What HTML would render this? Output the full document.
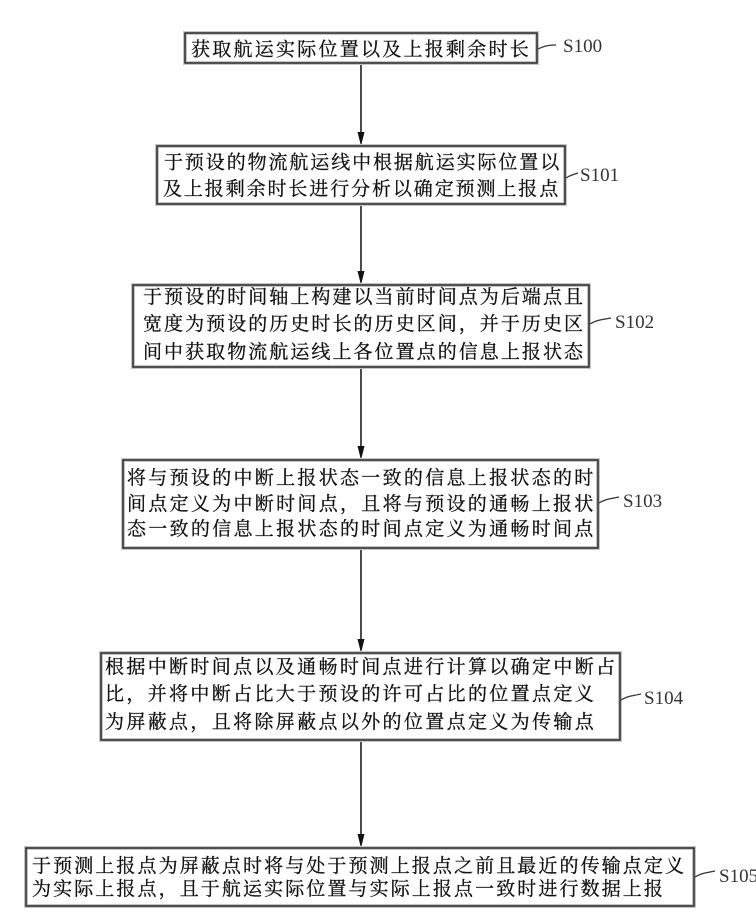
<!DOCTYPE html>
<html>
<head>
<meta charset="utf-8">
<style>
  html, body { margin: 0; padding: 0; background: #fff; }
  body { width: 756px; height: 924px; overflow: hidden; }
  svg { display: block; }
  .t { font-family: "Liberation Serif", "Noto Serif CJK SC", "Noto Serif CJK TC", serif; font-size: 19px; fill: #111; stroke: #111; stroke-width: 0.3px; }
  .lbl { font-family: "Liberation Serif", serif; font-size: 19px; fill: #333; }
  .halo { fill: none; stroke: #c4c4c4; stroke-width: 4; }
  .bx { fill: none; stroke: #111; stroke-width: 1.3; }
  .ln { stroke: #111; stroke-width: 1.5; }
  .ah { fill: #111; }
  .ld { fill: none; stroke: #333; stroke-width: 1.2; }
</style>
</head>
<body>
<svg width="756" height="924" viewBox="0 0 756 924" xmlns="http://www.w3.org/2000/svg">
  <!-- connectors -->
  <line class="ln" x1="361" y1="63" x2="361" y2="140"/>
  <polygon class="ah" points="357.5,132 364.5,132 361,146"/>
  <line class="ln" x1="361" y1="204" x2="361" y2="279"/>
  <polygon class="ah" points="357.5,271 364.5,271 361,285"/>
  <line class="ln" x1="361" y1="367" x2="361" y2="454"/>
  <polygon class="ah" points="357.5,446 364.5,446 361,460"/>
  <line class="ln" x1="361" y1="548" x2="361" y2="647"/>
  <polygon class="ah" points="357.5,639 364.5,639 361,653"/>
  <line class="ln" x1="361" y1="740" x2="361" y2="842"/>
  <polygon class="ah" points="357.5,834 364.5,834 361,848"/>

  <!-- boxes -->
  <rect class="halo" x="185" y="33" width="352" height="30"/>
  <rect class="bx" x="185" y="33" width="352" height="30"/>
  <rect class="halo" x="157" y="146" width="408" height="58"/>
  <rect class="bx" x="157" y="146" width="408" height="58"/>
  <rect class="halo" x="133" y="285" width="456" height="82"/>
  <rect class="bx" x="133" y="285" width="456" height="82"/>
  <rect class="halo" x="123" y="460" width="475" height="88"/>
  <rect class="bx" x="123" y="460" width="475" height="88"/>
  <rect class="halo" x="101" y="653" width="519" height="87"/>
  <rect class="bx" x="101" y="653" width="519" height="87"/>
  <rect class="halo" x="26" y="848" width="668" height="58"/>
  <rect class="bx" x="26" y="848" width="668" height="58"/>

  <!-- box texts -->
  <text class="t" x="191" y="55.5" style="letter-spacing:2.25px">获取航运实际位置以及上报剩余时长</text>

  <text class="t" x="164" y="168.5" style="letter-spacing:1.9px">于预设的物流航运线中根据航运实际位置以</text>
  <text class="t" x="163" y="195" style="letter-spacing:1.9px">及上报剩余时长进行分析以确定预测上报点</text>

  <text class="t" x="143" y="303" style="letter-spacing:2.05px">于预设的时间轴上构建以当前时间点为后端点且</text>
  <text class="t" x="143" y="330" style="letter-spacing:2.05px">宽度为预设的历史时长的历史区间，并于历史区</text>
  <text class="t" x="143" y="358" style="letter-spacing:2.05px">间中获取物流航运线上各位置点的信息上报状态</text>

  <text class="t" x="127" y="484" style="letter-spacing:2.3px">将与预设的中断上报状态一致的信息上报状态的时</text>
  <text class="t" x="127" y="510" style="letter-spacing:2.3px">间点定义为中断时间点，且将与预设的通畅上报状</text>
  <text class="t" x="127" y="535" style="letter-spacing:2.3px">态一致的信息上报状态的时间点定义为通畅时间点</text>

  <text class="t" x="105" y="673" style="letter-spacing:2.35px">根据中断时间点以及通畅时间点进行计算以确定中断占</text>
  <text class="t" x="105" y="700" style="letter-spacing:2.35px">比，并将中断占比大于预设的许可占比的位置点定义</text>
  <text class="t" x="105" y="728" style="letter-spacing:2.35px">为屏蔽点，且将除屏蔽点以外的位置点定义为传输点</text>

  <text class="t" x="32" y="872" style="letter-spacing:2.1px">于预测上报点为屏蔽点时将与处于预测上报点之前且最近的传输点定义</text>
  <text class="t" x="32" y="895" style="letter-spacing:2.1px">为实际上报点，且于航运实际位置与实际上报点一致时进行数据上报</text>

  <!-- leaders -->
  <path class="ld" d="M538,49 Q542,47 546,46 T556,45"/>
  <path class="ld" d="M566,178 Q569,176 572,175 T578,173"/>
  <path class="ld" d="M590,324 Q595,321 600,320 T611,318"/>
  <path class="ld" d="M599,503 Q604,500 609,499 T619,497"/>
  <path class="ld" d="M621,700 Q626,697 631,696 T641,694"/>
  <path class="ld" d="M695,877 Q700,874 705,873 T715,871"/>

  <!-- labels -->
  <text class="lbl" x="563" y="52">S100</text>
  <text class="lbl" x="580" y="181">S101</text>
  <text class="lbl" x="615" y="328">S102</text>
  <text class="lbl" x="623" y="507">S103</text>
  <text class="lbl" x="644" y="704">S104</text>
  <text class="lbl" x="719" y="882">S105</text>
</svg>
</body>
</html>
